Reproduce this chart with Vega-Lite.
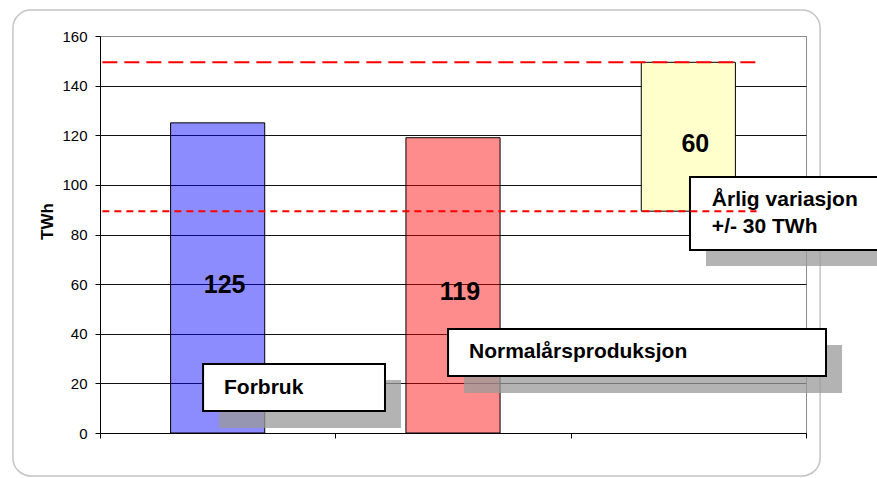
{
  "$schema": "https://vega.github.io/schema/vega-lite/v6.json",
  "width": 706,
  "height": 397,
  "autosize": {"type": "none"},
  "padding": {"left": 100, "top": 36, "right": 71, "bottom": 45},
  "background": "white",
  "config": {
    "view": {"stroke": "#8c8c8c", "strokeWidth": 1},
    "font": "Liberation Sans",
    "axisY": {
      "titleFontSize": 17,
      "titleFontWeight": "bold",
      "titleColor": "#000",
      "titleFont": "Liberation Sans",
      "titlePadding": 5,
      "titleY": 185,
      "labelFontSize": 15,
      "labelColor": "#000",
      "labelFont": "Liberation Sans"
    }
  },
  "datasets": {
    "stolper": [
      {"kategori": "Forbruk", "fra": 0, "til": 125, "etikett": "125"},
      {"kategori": "Normalårsproduksjon", "fra": 0, "til": 119, "etikett": "119"},
      {"kategori": "Årlig variasjon", "fra": 89.4, "til": 149.4, "etikett": "60"}
    ],
    "ramme": [{"x0": -0.37, "x1": 3.06, "y0": -17.3, "y1": 170.5}],
    "skygger": [
      {"x0": 0.506, "x1": 1.279, "y0": 2.0, "y1": 21.4},
      {"x0": 1.547, "x1": 3.153, "y0": 16.1, "y1": 35.5},
      {"x0": 2.575, "x1": 3.4, "y0": 67.3, "y1": 96.7}
    ],
    "bokser": [
      {"x0": 0.438, "x1": 1.211, "y0": 8.9, "y1": 27.8},
      {"x0": 1.479, "x1": 3.085, "y0": 23.0, "y1": 41.9},
      {"x0": 2.507, "x1": 3.4, "y0": 73.8, "y1": 103.2}
    ],
    "tekster": [
      {"tekst": "Forbruk", "x": 0.527, "y": 18.3},
      {"tekst": "Normalårsproduksjon", "x": 1.568, "y": 32.6},
      {"tekst": "Årlig variasjon", "x": 2.6, "y": 93.9},
      {"tekst": "+/- 30 TWh", "x": 2.6, "y": 83.0}
    ],
    "linjer": [
      {"y": 149.4, "x0": 0.01, "x1": 2.79, "stil": "lang"},
      {"y": 89.4, "x0": 0.01, "x1": 2.79, "stil": "kort"}
    ]
  },
  "resolve": {"scale": {"x": "independent"}},
  "layer": [
    {
      "layer": [
        {
          "data": {"name": "stolper"},
          "mark": {"type": "bar", "stroke": "#000", "strokeWidth": 1},
          "encoding": {
            "x": {"field": "kategori", "type": "nominal", "sort": null, "scale": {"paddingInner": 0.6, "paddingOuter": 0.3}, "axis": null},
            "y": {
              "field": "fra", "type": "quantitative",
              "scale": {"domain": [0, 160], "nice": false},
              "axis": {
                "values": [0, 20, 40, 60, 80, 100, 120, 140, 160],
                "grid": true,
                "gridColor": {"condition": {"test": "datum.value === 160", "value": "#8c8c8c"}, "value": "#111"},
                "gridWidth": 1,
                "domainColor": "#000",
                "domainWidth": 1,
                "tickColor": "#000",
                "tickSize": 5,
                "labelPadding": 8,
                "title": "TWh",
                "titleFontSize": 17
              }
            },
            "y2": {"field": "til"},
            "color": {
              "field": "kategori", "type": "nominal",
              "scale": {"domain": ["Forbruk", "Normalårsproduksjon", "Årlig variasjon"], "range": ["#0000ff", "#ff0000", "#ffffcc"]},
              "legend": null
            },
            "fillOpacity": {"condition": {"test": "datum.kategori === 'Årlig variasjon'", "value": 1}, "value": 0.45}
          }
        },
        {
          "data": {"name": "stolper"},
          "transform": [{"calculate": "(datum.fra + datum.til) / 2", "as": "midt"}],
          "mark": {"type": "text", "fontSize": 25, "fontWeight": "bold", "color": "#000", "dx": 7, "dy": 7, "font": "Liberation Sans"},
          "encoding": {
            "x": {"field": "kategori", "type": "nominal", "sort": null},
            "y": {"field": "midt", "type": "quantitative"},
            "text": {"field": "etikett"}
          }
        }
      ]
    },
    {
      "layer": [
        {
          "data": {"name": "ramme"},
          "mark": {"type": "rect", "fill": "transparent", "stroke": "#c4c4c4", "strokeWidth": 1.5, "cornerRadius": 18},
          "encoding": {
            "x": {
              "field": "x0", "type": "quantitative",
              "scale": {"domain": [0, 3], "nice": false, "zero": false},
              "axis": {"values": [0, 1, 2, 3], "labels": false, "grid": false, "domainColor": "#000", "tickColor": "#000", "tickSize": 5, "title": null, "orient": "bottom"}
            },
            "x2": {"field": "x1"},
            "y": {"field": "y0", "type": "quantitative"},
            "y2": {"field": "y1"}
          }
        },
        {
          "data": {"name": "skygger"},
          "mark": {"type": "rect", "fill": "#9a9a9a", "fillOpacity": 0.75},
          "encoding": {
            "x": {"field": "x0", "type": "quantitative"},
            "x2": {"field": "x1"},
            "y": {"field": "y0", "type": "quantitative"},
            "y2": {"field": "y1"}
          }
        },
        {
          "data": {"name": "bokser"},
          "mark": {"type": "rect", "fill": "#fff", "stroke": "#000", "strokeWidth": 2},
          "encoding": {
            "x": {"field": "x0", "type": "quantitative"},
            "x2": {"field": "x1"},
            "y": {"field": "y0", "type": "quantitative"},
            "y2": {"field": "y1"}
          }
        },
        {
          "data": {"name": "tekster"},
          "mark": {"type": "text", "align": "left", "baseline": "middle", "fontSize": 21, "fontWeight": "bold", "color": "#000", "font": "Liberation Sans"},
          "encoding": {
            "x": {"field": "x", "type": "quantitative"},
            "y": {"field": "y", "type": "quantitative"},
            "text": {"field": "tekst"}
          }
        },
        {
          "data": {"name": "linjer"},
          "transform": [{"filter": "datum.stil === 'lang'"}],
          "mark": {"type": "rule", "color": "#ff0000", "strokeWidth": 2, "strokeDash": [15, 7]},
          "encoding": {
            "x": {"field": "x0", "type": "quantitative"},
            "x2": {"field": "x1"},
            "y": {"field": "y", "type": "quantitative"}
          }
        },
        {
          "data": {"name": "linjer"},
          "transform": [{"filter": "datum.stil === 'kort'"}],
          "mark": {"type": "rule", "color": "#ff0000", "strokeWidth": 2, "strokeDash": [7, 5]},
          "encoding": {
            "x": {"field": "x0", "type": "quantitative"},
            "x2": {"field": "x1"},
            "y": {"field": "y", "type": "quantitative"}
          }
        }
      ]
    }
  ]
}
